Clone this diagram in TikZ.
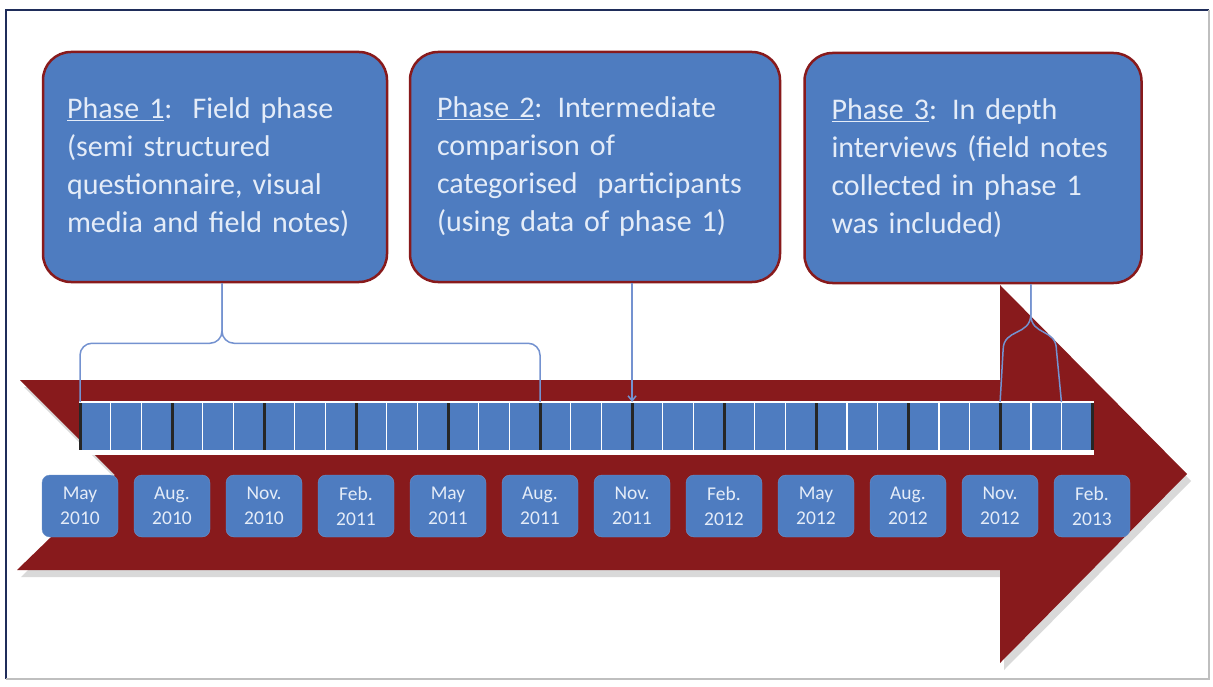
\documentclass[tikz,border=0pt]{standalone}
\usepackage{fontspec}
\setmainfont{Carlito}
\usetikzlibrary{arrows.meta,calc,shadows}

\definecolor{boxblue}{RGB}{78,124,192}
\definecolor{arrowred}{RGB}{136,26,28}
\definecolor{textlight}{RGB}{228,236,248}
\definecolor{linkblue}{RGB}{116,146,208}
\definecolor{framenavy}{RGB}{31,45,90}

\begin{document}
\begin{tikzpicture}[x=1pt,y=-1pt,
    phasebox/.style={draw=arrowred, line width=2.5pt, fill=boxblue, rounded corners=28pt,
        minimum height=230pt, inner sep=0pt, text=textlight, align=left,
        font=\fontsize{30}{38}\selectfont},
    datebox/.style={fill=boxblue, draw=boxblue!85!white, rounded corners=8pt,
        minimum width=76pt, minimum height=62pt, inner sep=0pt, text=textlight,
        align=center, font=\fontsize{19.5}{25}\selectfont},
    link/.style={draw=linkblue, line width=1.5pt}]
    \useasboundingbox (0,0) rectangle (1213,687);
    \fill[white] (0,0) rectangle (1213,687);
    % frame
    \draw[framenavy, line width=2.5pt] (6,679) -- (6,10) -- (1209,10);
    \draw[gray!50, line width=1.5pt] (1209,10) -- (1209,679) -- (6,679);
    % big arrow
    \fill[arrowred, drop shadow={shadow xshift=4pt, shadow yshift=-7pt, fill=black, opacity=0.15}]
        (20,380) -- (1000,380) -- (1000,285) -- (1187,474) -- (1000,663)
        -- (1000,570) -- (17,570) -- (115,475) -- cycle;
    % timeline
    \fill[white] (79,401) rectangle (1094,455);
    \fill[boxblue] (80,403) rectangle (1092,450);
    \foreach \i in {0,...,33} {
        \coordinate (t\i) at ({80+\i*30.67},402);
    }
    \foreach \i in {1,...,32}
        \draw[white, line width=1.5pt] ({80+\i*30.67},403) -- ++(0,47);
    \foreach \i in {0,3,...,33}
        \draw[black!85, line width=3pt] ({80+\i*30.67},403) -- ++(0,47);
    % months
    \foreach \mon/\yr [count=\k from 0] in {May/2010, Aug./2010, Nov./2010, Feb./2011,
        May/2011, Aug./2011, Nov./2011, Feb./2012, May/2012, Aug./2012, Nov./2012, Feb./2013}
        \node[datebox] (d\k) at ({80+\k*92},506) {\mon\\\yr};
    % phases
    \node[phasebox, minimum width=344pt, text width=296pt] (phase1) at (215,167)
        {\underline{Phase 1}:\ \ Field phase\\(semi structured\\questionnaire, visual\\media and field notes)};
    \node[phasebox, minimum width=370pt, text width=316pt] (phase2) at (595,167)
        {\underline{Phase 2}: Intermediate\\comparison of\\categorised\ \ participants\\(using data of phase 1)};
    \node[phasebox, minimum width=337pt, text width=283pt] (phase3) at (973,168)
        {\underline{Phase 3}: In depth\\interviews (field notes\\collected in phase 1\\was included)};
    % links
    \coordinate (p1) at ([xshift=7pt]phase1.south);
    \draw[link, rounded corners=12pt] (t0) |- ($(p1)+(0,60)$) -- (p1);
    \draw[link, rounded corners=12pt] (t15) |- ($(p1)+(0,60)$) -- (p1);
    \draw[link, -{Straight Barb[length=5pt,width=8pt]}] (t18 |- phase2.south) -- (t18);
    \coordinate (p3) at (t31 |- phase3.south);
    \draw[link] (p3) -- ++(0,30) .. controls +(0,22) and +(0,-22) .. ($(t30)+(3,-52)$) -- (t30);
    \draw[link] (p3) -- ++(0,30) .. controls +(0,22) and +(0,-22) .. ($(t32)+(-5,-52)$) -- (t32);
\end{tikzpicture}
\end{document}
